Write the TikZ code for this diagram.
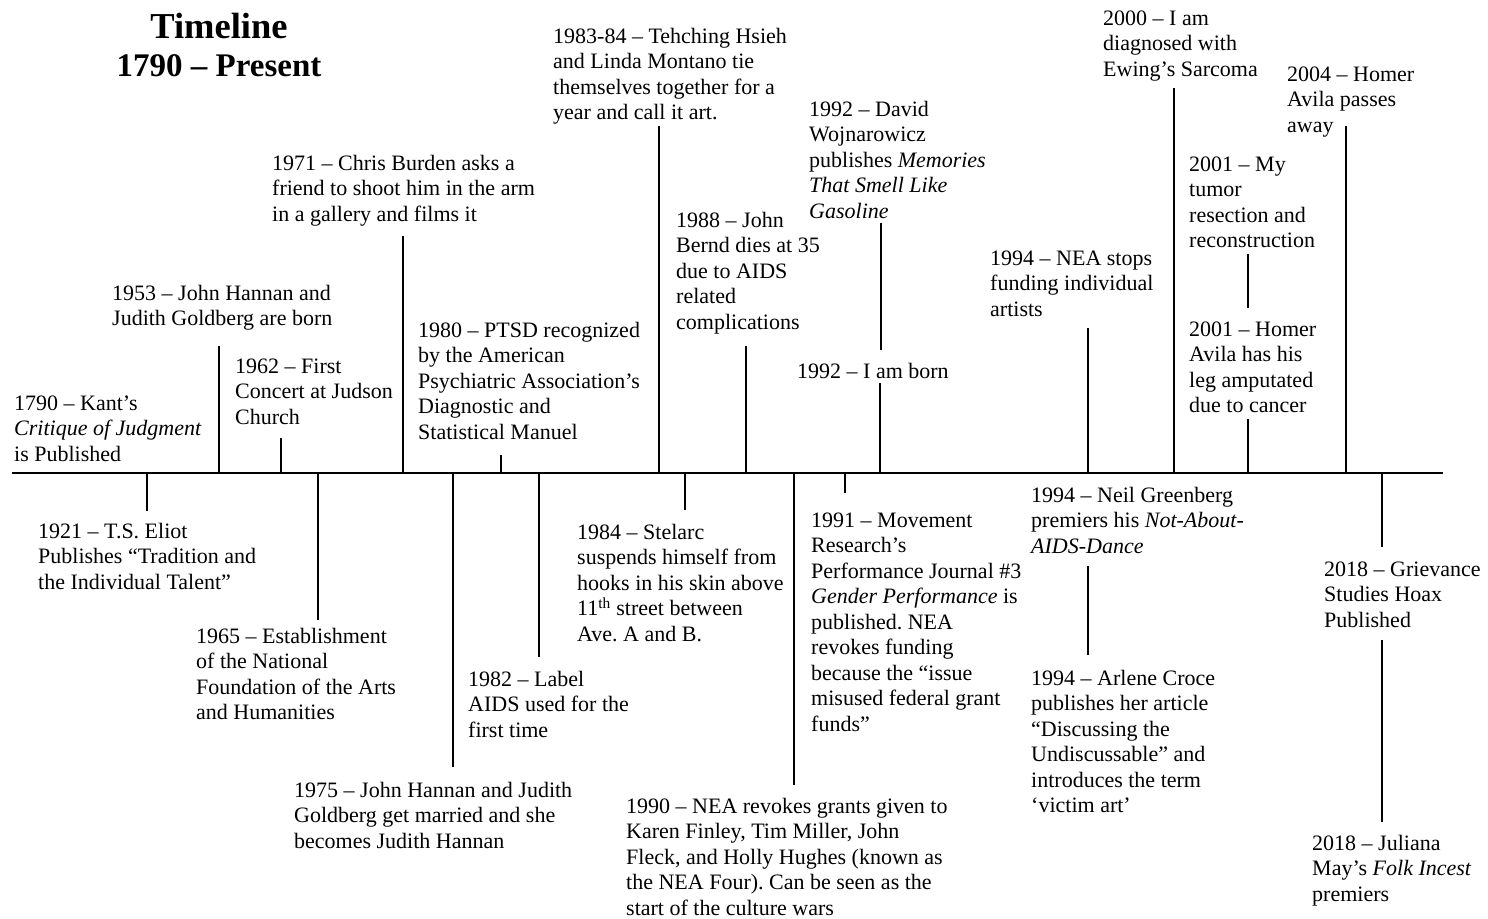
\documentclass[tikz,border=0pt]{standalone}
\usepackage{fontspec}
\setmainfont{Liberation Serif}
\begin{document}
\frenchspacing
\begin{tikzpicture}[x=1pt,y=-1pt,
  ev/.style={anchor=north west, yshift=17.85pt, align=left, inner sep=0pt, font=\fontsize{22}{25.5}\selectfont\frenchspacing},
  ttl/.style={anchor=base, align=center, inner sep=0pt, font=\bfseries},
  tick/.style={line width=1.5pt}]
\useasboundingbox (0,0) rectangle (1488,918);
% title
\node[ttl, font=\fontsize{36.5}{40}\selectfont\bfseries] (title) at (219,38) {Timeline};
\node[ttl, font=\fontsize{33}{38}\selectfont\bfseries] (title2) at (219,76) {1790 – Present};
% axis
\coordinate (axL) at (12,473);
\coordinate (axR) at (1443,473);
\draw[tick] (axL) -- (axR);
% events
\node[ev] (e1790) at (14,410) {\strut 1790 – Kant’s\\\textit{Critique of Judgment}\\is Published};
\node[ev] (e1921) at (38,538) {\strut 1921 – T.S. Eliot\\Publishes “Tradition and\\the Individual Talent”};
\node[ev] (e1953) at (112,300) {\strut 1953 – John Hannan and\\Judith Goldberg are born};
\node[ev] (e1962) at (235,373) {\strut 1962 – First\\Concert at Judson\\Church};
\node[ev] (e1965) at (196,643) {\strut 1965 – Establishment\\of the National\\Foundation of the Arts\\and Humanities};
\node[ev] (e1971) at (272,170) {\strut 1971 – Chris Burden asks a\\friend to shoot him in the arm\\in a gallery and films it};
\node[ev] (e1975) at (294,797) {\strut 1975 – John Hannan and Judith\\Goldberg get married and she\\becomes Judith Hannan};
\node[ev] (e1980) at (418,337) {\strut 1980 – PTSD recognized\\by the American\\Psychiatric Association’s\\Diagnostic and\\Statistical Manuel};
\node[ev] (e1982) at (468,686) {\strut 1982 – Label\\AIDS used for the\\first time};
\node[ev] (e1983) at (553,43) {\strut 1983-84 – Tehching Hsieh\\and Linda Montano tie\\themselves together for a\\year and call it art.};
\node[ev] (e1984) at (577,539) {\strut 1984 – Stelarc\\suspends himself from\\hooks in his skin above\\11\textsuperscript{th} street between\\Ave. A and B.};
\node[ev] (e1988) at (676,227) {\strut 1988 – John\\Bernd dies at 35\\due to AIDS\\related\\complications};
\node[ev] (e1990) at (626,813) {\strut 1990 – NEA revokes grants given to\\Karen Finley, Tim Miller, John\\Fleck, and Holly Hughes (known as\\the NEA Four). Can be seen as the\\start of the culture wars};
\node[ev] (e1991) at (811,527) {\strut 1991 – Movement\\Research’s\\Performance Journal \#3\\\textit{Gender Performance} is\\published. NEA\\revokes funding\\because the “issue\\misused federal grant\\funds”};
\node[ev] (e1992a) at (809,116) {\strut 1992 – David\\Wojnarowicz\\publishes \textit{Memories}\\\textit{That Smell Like}\\\textit{Gasoline}};
\node[ev] (e1992b) at (797,378) {\strut 1992 – I am born};
\node[ev] (e1994a) at (990,265) {\strut 1994 – NEA stops\\funding individual\\artists};
\node[ev] (e1994b) at (1031,502) {\strut 1994 – Neil Greenberg\\premiers his \textit{Not-About-}\\\textit{AIDS-Dance}};
\node[ev] (e1994c) at (1031,685) {\strut 1994 – Arlene Croce\\publishes her article\\“Discussing the\\Undiscussable” and\\introduces the term\\‘victim art’};
\node[ev] (e2000) at (1103,25) {\strut 2000 – I am\\diagnosed with\\Ewing’s Sarcoma};
\node[ev] (e2001a) at (1189,171) {\strut 2001 – My\\tumor\\resection and\\reconstruction};
\node[ev] (e2001b) at (1189,336) {\strut 2001 – Homer\\Avila has his\\leg amputated\\due to cancer};
\node[ev] (e2004) at (1287,81) {\strut 2004 – Homer\\Avila passes\\away};
\node[ev] (e2018a) at (1324,576) {\strut 2018 – Grievance\\Studies Hoax\\Published};
\node[ev] (e2018b) at (1312,850) {\strut 2018 – Juliana\\May’s \textit{Folk Incest}\\premiers};
% ticks above the axis
\coordinate (k1953) at (219,346);
\coordinate (k1962) at (281,438);
\coordinate (k1971) at (403,236);
\coordinate (k1980) at (501,455);
\coordinate (k1983) at (659,126);
\coordinate (k1988) at (746,346);
\coordinate (k1992b) at (880,383);
\coordinate (k1994a) at (1088,328);
\coordinate (k2000) at (1174,88);
\coordinate (k2001b) at (1248,419);
\coordinate (k2004) at (1346,126);
\foreach \k in {k1953,k1962,k1971,k1980,k1983,k1988,k1992b,k1994a,k2000,k2001b,k2004}
  \draw[tick] (\k) -- (\k |- axL);
% ticks below the axis
\coordinate (k1921) at (147,511);
\coordinate (k1965) at (318,620);
\coordinate (k1975) at (453,767);
\coordinate (k1982) at (539,657);
\coordinate (k1984) at (685,510);
\coordinate (k1990) at (794,785);
\coordinate (k1991) at (845,493);
\coordinate (k2018a) at (1382,547);
\foreach \k in {k1921,k1965,k1975,k1982,k1984,k1990,k1991,k2018a}
  \draw[tick] (\k |- axL) -- (\k);
% free segments
\coordinate (d1) at (881,223); \coordinate (d2) at (881,350);
\draw[tick] (d1) -- (d2);
\coordinate (m1) at (1248,254); \coordinate (m2) at (1248,308);
\draw[tick] (m1) -- (m2);
\coordinate (c1) at (1088,566); \coordinate (c2) at (1088,655);
\draw[tick] (c1) -- (c2);
\coordinate (j1) at (1382,640); \coordinate (j2) at (1382,822);
\draw[tick] (j1) -- (j2);
\end{tikzpicture}
\end{document}
